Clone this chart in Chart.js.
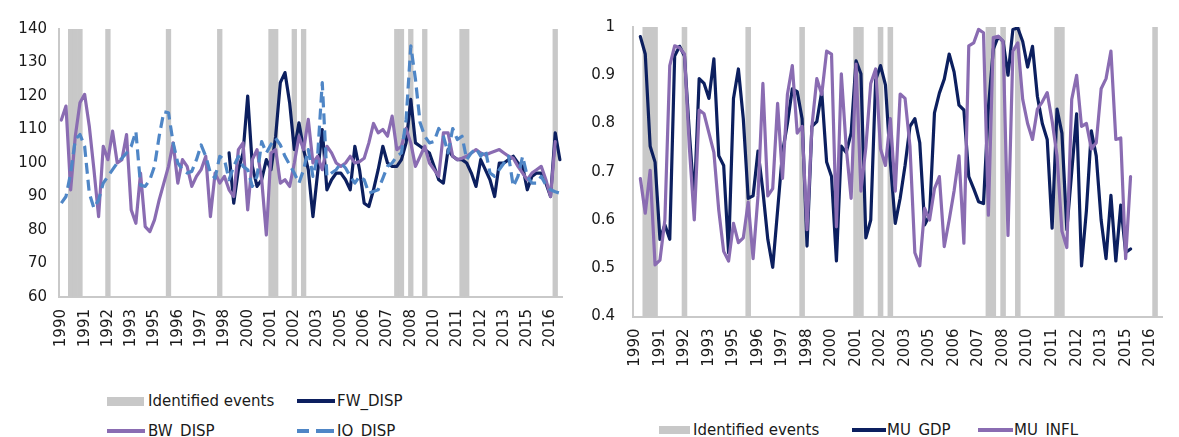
<!DOCTYPE html>
<html><head><meta charset="utf-8">
<script src="https://cdn.jsdelivr.net/npm/chart.js@4.4.1/dist/chart.umd.min.js"></script>
<style>
html,body{margin:0;padding:0;background:#fff;overflow:hidden;width:1179px;height:437px;position:relative;}
canvas{position:absolute;top:0;}
#c1{left:0;}
#c2{left:590px;}
.sw{position:absolute;}
.tx{position:absolute;font-family:"DejaVu Sans",Verdana,sans-serif;font-size:15px;line-height:16px;color:#1a1a1a;white-space:nowrap;}
</style></head>
<body>
<canvas id="c1" width="590" height="365"></canvas>
<canvas id="c2" width="600" height="370"></canvas>

<div class="sw" style="left:107px;top:397px;width:37px;height:9px;background:#c8c8c8"></div>
<div class="tx" style="left:148px;top:393px">Identified events</div>
<div class="sw" style="left:297px;top:399px;width:38px;height:3.5px;background:#0c1f5f"></div>
<div class="tx" style="left:337px;top:393px">FW_DISP</div>
<div class="sw" style="left:107px;top:429px;width:38px;height:3.5px;background:#8a6cb2"></div>
<div class="tx" style="left:148px;top:423px">BW_DISP</div>
<div class="sw" style="left:297px;top:429px;width:12px;height:3.5px;background:#4f86c6"></div>
<div class="sw" style="left:316px;top:429px;width:18px;height:3.5px;background:#4f86c6"></div>
<div class="tx" style="left:337px;top:423px">IO_DISP</div>

<div class="sw" style="left:659px;top:426px;width:31px;height:8px;background:#c8c8c8"></div>
<div class="tx" style="left:693px;top:422px">Identified events</div>
<div class="sw" style="left:852px;top:428px;width:34px;height:3.5px;background:#0c1f5f"></div>
<div class="tx" style="left:887px;top:422px">MU_GDP</div>
<div class="sw" style="left:978px;top:428px;width:35px;height:3.5px;background:#8a6cb2"></div>
<div class="tx" style="left:1014px;top:422px">MU_INFL</div>

<script>
const categories = [
 '1990Q1','1990Q2','1990Q3','1990Q4','1991Q1','1991Q2','1991Q3','1991Q4','1992Q1','1992Q2','1992Q3','1992Q4',
 '1993Q1','1993Q2','1993Q3','1993Q4','1994Q1','1994Q2','1994Q3','1994Q4','1995Q1','1995Q2','1995Q3','1995Q4',
 '1996Q1','1996Q2','1996Q3','1996Q4','1997Q1','1997Q2','1997Q3','1997Q4','1998Q1','1998Q2','1998Q3','1998Q4',
 '1999Q1','1999Q2','1999Q3','1999Q4','2000Q1','2000Q2','2000Q3','2000Q4','2001Q1','2001Q2','2001Q3','2001Q4',
 '2002Q1','2002Q2','2002Q3','2002Q4','2003Q1','2003Q2','2003Q3','2003Q4','2004Q1','2004Q2','2004Q3','2004Q4',
 '2005Q1','2005Q2','2005Q3','2005Q4','2006Q1','2006Q2','2006Q3','2006Q4','2007Q1','2007Q2','2007Q3','2007Q4',
 '2008Q1','2008Q2','2008Q3','2008Q4','2009Q1','2009Q2','2009Q3','2009Q4','2010Q1','2010Q2','2010Q3','2010Q4',
 '2011Q1','2011Q2','2011Q3','2011Q4','2012Q1','2012Q2','2012Q3','2012Q4','2013Q1','2013Q2','2013Q3','2013Q4',
 '2014Q1','2014Q2','2014Q3','2014Q4','2015Q1','2015Q2','2015Q3','2015Q4','2016Q1','2016Q2','2016Q3','2016Q4'
];
const yearTicks = ['1990','1991','1992','1993','1995','1996','1997','1998','2000','2001','2002','2003',
 '2005','2006','2007','2008','2010','2011','2012','2013','2015','2016'];
const eventQuarters = ['1990Q3','1990Q4','1991Q1','1992Q3','1995Q4','1998Q3','2001Q2','2001Q3','2002Q3',
 '2003Q1','2008Q1','2008Q2','2008Q4','2009Q3','2011Q3','2011Q4','2016Q3'];

const fwDisp = [
 null,null,null,null,null,null,null,null,null,null,null,null,null,null,null,null,null,null,
 null,null,null,null,null,null,null,null,null,null,null,null,null,null,null,null,null,null,
 103,88,98,103,120,99,93,95,101,98,
 108,124,127,118,104,112,104,98,84,97,
 110,92,95,97,97,95,92,105,98,88,
 87,92,98,105,100,99,99,101,106,119,
 106,105,104,103,99,95,94,104,102,101,
 101,100,97,93,101,98,95,90,100,100,
 101,102,100,99,92,96,97,97,94,90,
 109,101];
const bwDisp = [
 112.8,117,92,108,118,120.5,111,98,84,105,
 101,109.5,100,101,108.5,86,82,97,81,79.5,
 83,89,94,99,106,94,101,99,93,96,
 98,102,84,97,94,96,92,90,104,106,
 86,101,104,95,78.5,103,104,94,95,93,
 100,108,104,113,100,102,98,105,103,100,
 99,100,102,100,100.4,101.4,106,111.8,109,110,
 108,114,104,105,110.3,106,99,102,105,100,
 98,96,109,109,102,101,101.4,102,103,104,
 103,102.4,103,103.5,104,103,102,101.4,99,97,
 95,97,98,99,95,90,106.4,null];
const ioDisp = [
 88,90,97,107,108.5,105,91,86.5,89,94,
 96,98,100,101.4,103,105,109.4,93.4,93,95,
 99,108,115.3,115,106,100,98,97,97.5,101,
 105.4,102,97,95.5,102,101,95,99,102,99,
 98,93,96,106.4,103,105.5,107.4,105.4,102,99.5,
 97,94,98,104,96,102,124,96,97,98,
 100,98.5,96,94,96,95,91,91.5,92,95.4,
 99,100,102,103,113,135,125,112,108,106,
 106.4,110.3,108,103,110.3,107,108,101,103,104.4,
 102,104,97,96,98,100,102,93,96,102,
 96,94,94,96,93.4,92,91.4,91];

const muGdp = [null,
 0.98,0.944,0.753,0.72,0.56,0.59,0.56,0.94,0.96,0.94,
 0.78,0.64,0.893,0.883,0.852,0.934,0.733,0.713,0.532,0.852,
 0.913,0.81,0.645,0.65,0.743,0.66,0.56,0.502,0.62,0.74,
 0.8,0.872,0.866,0.81,0.546,0.794,0.804,0.866,0.72,0.69,
 0.515,0.753,0.74,0.78,0.93,0.903,0.563,0.6,0.89,0.92,
 0.88,0.72,0.593,0.645,0.713,0.794,0.81,0.76,0.59,0.61,
 0.822,0.863,0.892,0.944,0.907,0.838,0.828,0.69,0.665,0.638,
 0.634,0.832,0.954,0.98,0.97,0.9,0.995,0.998,0.97,0.917,
 0.96,0.856,0.8,0.767,0.583,0.83,0.78,0.58,0.7,0.82,
 0.505,0.62,0.785,0.733,0.6,0.52,0.651,0.515,0.631,0.533,0.54,
 null,null,null,null,null,null];
const muInfl = [null,
 0.686,0.614,0.703,0.507,0.517,0.6,0.92,0.961,0.957,0.944,
 0.75,0.6,0.828,0.82,0.78,0.74,0.62,0.535,0.515,0.593,
 0.553,0.563,0.637,0.52,0.65,0.883,0.65,0.665,0.842,0.686,
 0.86,0.92,0.78,0.794,0.58,0.794,0.893,0.86,0.95,0.944,
 0.586,0.903,0.75,0.645,0.923,0.66,0.75,0.883,0.913,0.747,
 0.713,0.81,0.66,0.861,0.852,0.753,0.532,0.505,0.624,0.6,
 0.665,0.69,0.545,0.6,0.66,0.733,0.552,0.961,0.967,0.995,
 0.988,0.61,0.978,0.981,0.97,0.568,0.95,0.967,0.85,0.8,
 0.767,0.83,0.845,0.864,0.805,0.733,0.577,0.543,0.85,0.9,
 0.794,0.8,0.747,0.76,0.872,0.893,0.95,0.767,0.77,0.52,0.69,
 null,null,null,null,null,null];

const NAVY='#0c1f5f', PURPLE='#8a6cb2', LBLUE='#4f86c6', GRAY='#c8c8c8';
const FONT = {family:'"DejaVu Sans", Verdana, sans-serif', size:15};
const TXT = '#1a1a1a';

function lineDs(label, data, color, order, dash){
  return {type:'line', label, data, borderColor:color, backgroundColor:color, borderWidth:3.2,
    pointRadius:0, tension:0, fill:false, spanGaps:false, order,
    borderDash: dash || [], borderCapStyle: dash ? 'butt':'round', borderJoinStyle:'round'};
}
function eventDs(top){
  return {type:'bar', label:'Identified events', data: categories.map(q => eventQuarters.includes(q) ? top : null),
    backgroundColor:GRAY, borderWidth:0, barPercentage:1, categoryPercentage:1, order:10};
}
function xScale(h){
  return {offset:true, grid:{display:false, drawTicks:false, offset:true},
    border:{display:true, color:'#c9c9c9', width:2},
    ticks:{autoSkip:false, maxRotation:90, minRotation:90, padding:12, font:FONT, color:TXT,
      callback:(v,i)=> i%5===0 && yearTicks[i/5] ? yearTicks[i/5] : ''},
    afterFit:s=>{s.height=h;}};
}

new Chart(document.getElementById('c1'), {
  type:'bar',
  data:{labels:categories, datasets:[
    lineDs('IO_DISP', ioDisp, LBLUE, 1, [11,6]),
    lineDs('BW_DISP', bwDisp, PURPLE, 2),
    lineDs('FW_DISP', fwDisp, NAVY, 3),
    eventDs(140)
  ]},
  options:{responsive:false, animation:false, devicePixelRatio:1,
    layout:{padding:{left:0,right:25,top:29,bottom:0}},
    plugins:{legend:{display:false}, tooltip:{enabled:false}},
    scales:{
      x: xScale(68),
      y:{min:60, max:140, grid:{display:false, drawTicks:false},
        border:{display:true, color:'#c9c9c9', width:2},
        ticks:{stepSize:10, padding:12, font:FONT, color:TXT},
        afterFit:s=>{s.width=59;}}
    }}
});

new Chart(document.getElementById('c2'), {
  type:'bar',
  data:{labels:categories, datasets:[
    lineDs('MU_INFL', muInfl, PURPLE, 1),
    lineDs('MU_GDP', muGdp, NAVY, 2),
    eventDs(1)
  ]},
  options:{responsive:false, animation:false, devicePixelRatio:1,
    layout:{padding:{left:0,right:9,top:22.5,bottom:0}},
    plugins:{legend:{display:false}, tooltip:{enabled:false}},
    scales:{
      x: xScale(53.5),
      y:{min:0.4, max:1, grid:{display:false, drawTicks:false},
        border:{display:true, color:'#c9c9c9', width:2},
        ticks:{stepSize:0.1, padding:18, font:FONT, color:TXT,
          callback:v=>String(Math.round(v*10)/10)},
        afterFit:s=>{s.width=43;}}
    }}
});
</script>
</body></html>
